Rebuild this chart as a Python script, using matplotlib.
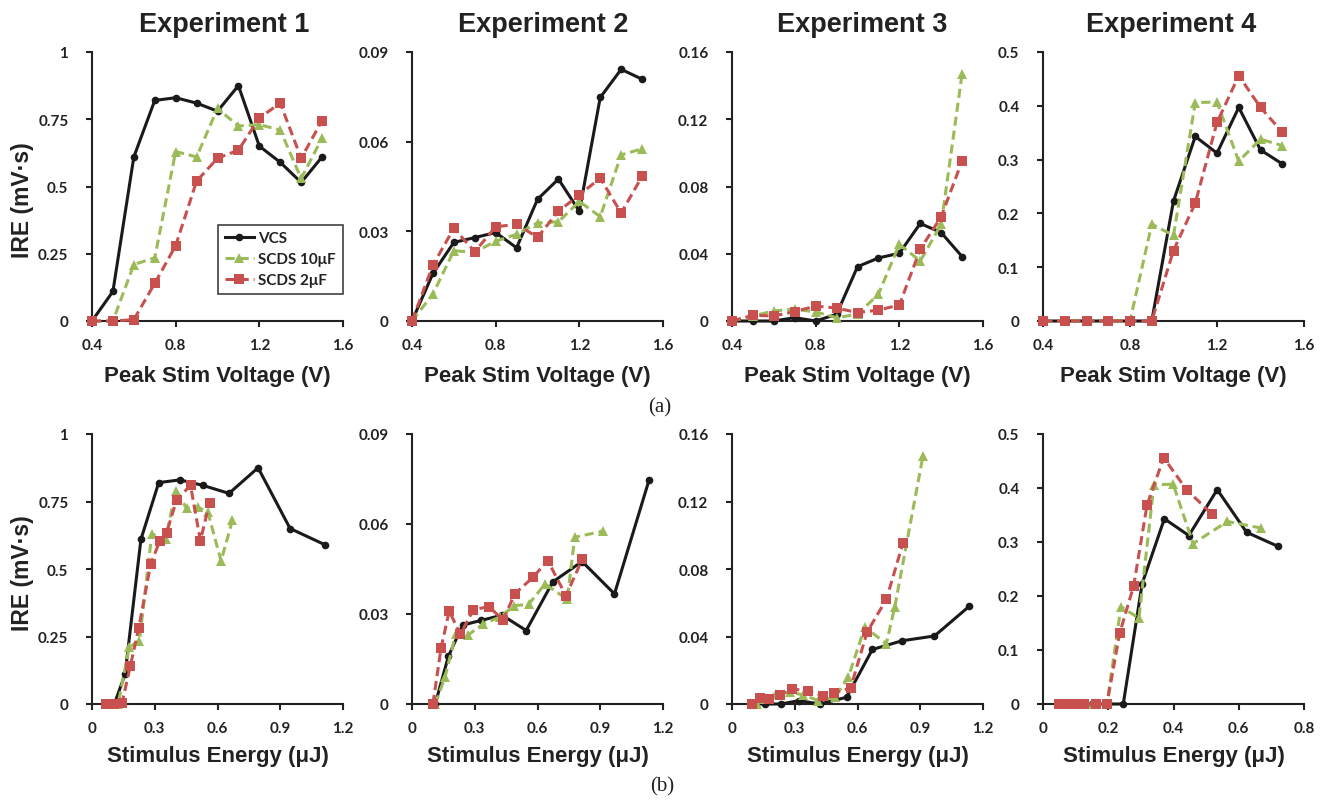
import matplotlib
matplotlib.use('Agg')
import matplotlib.pyplot as plt
from matplotlib.ticker import FixedLocator

# ---------------- data ----------------
voltage = [0.4, 0.5, 0.6, 0.7, 0.8, 0.9, 1.0, 1.1, 1.2, 1.3, 1.4, 1.5]

# Experiment 1
vcs_1 = [0, 0.11, 0.61, 0.82, 0.83, 0.81, 0.78, 0.875, 0.65, 0.59, 0.515, 0.61]
s10_1 = [0, 0, 0.21, 0.235, 0.63, 0.61, 0.79, 0.725, 0.73, 0.71, 0.53, 0.68]
s2_1 = [0, 0, 0.005, 0.14, 0.28, 0.52, 0.605, 0.635, 0.755, 0.81, 0.605, 0.745]
e_vcs_1 = [0.107, 0.158, 0.234, 0.319, 0.42, 0.529, 0.655, 0.794, 0.947, 1.113]
e_s10_1 = [0.075, 0.125, 0.178, 0.227, 0.286, 0.352, 0.40, 0.452, 0.505, 0.554, 0.617, 0.671]
e_s2_1 = [0.068, 0.105, 0.144, 0.183, 0.223, 0.281, 0.325, 0.357, 0.404, 0.471, 0.518, 0.562]

# Experiment 2
vcs_2 = [0, 0.0159, 0.0263, 0.0279, 0.0296, 0.0245, 0.0407, 0.0475, 0.0367, 0.0748, 0.0842, 0.0809]
s10_2 = [0, 0.009, 0.0235, 0.023, 0.0267, 0.029, 0.0328, 0.0332, 0.040, 0.0349, 0.0556, 0.0576]
s2_2 = [0, 0.0187, 0.031, 0.0232, 0.0315, 0.0324, 0.028, 0.0367, 0.0422, 0.0478, 0.0361, 0.0484]
e_vcs_2 = [0.111, 0.174, 0.242, 0.332, 0.431, 0.546, 0.673, 0.813, 0.968, 1.134]
e_s10_2 = [0.111, 0.158, 0.21, 0.268, 0.341, 0.42, 0.49, 0.557, 0.636, 0.742, 0.778, 0.913]
e_s2_2 = [0.1, 0.139, 0.178, 0.231, 0.294, 0.368, 0.436, 0.491, 0.578, 0.649, 0.736, 0.815]

# Experiment 3
vcs_3 = [0, 0, 0, 0.002, 0, 0.004, 0.0323, 0.0375, 0.0403, 0.058, 0.0526, 0.0383]
s10_3 = [0, 0.003, 0.006, 0.007, 0.0054, 0.002, 0.004, 0.0159, 0.0456, 0.0357, 0.0575, 0.147]
s2_3 = [0, 0.0034, 0.003, 0.0056, 0.0089, 0.0077, 0.005, 0.0065, 0.0095, 0.0427, 0.062, 0.0952]
e_vcs_3 = [0.107, 0.158, 0.234, 0.32, 0.42, 0.548, 0.671, 0.814, 0.968, 1.135]
e_s10_3 = [0.119, 0.151, 0.211, 0.275, 0.341, 0.413, 0.492, 0.556, 0.635, 0.738, 0.778, 0.913]
e_s2_3 = [0.095, 0.135, 0.178, 0.23, 0.289, 0.365, 0.433, 0.487, 0.567, 0.646, 0.738, 0.817]

# Experiment 4
vcs_4 = [0, 0, 0, 0, 0, 0, 0.223, 0.343, 0.312, 0.397, 0.318, 0.292]
s10_4 = [0, 0, 0, 0, 0, 0.18, 0.159, 0.406, 0.407, 0.297, 0.338, 0.326]
s2_4 = [0, 0, 0, 0, 0, 0, 0.131, 0.219, 0.369, 0.456, 0.397, 0.351]
e_vcs_4 = [0.049, 0.076, 0.109, 0.149, 0.194, 0.246, 0.304, 0.372, 0.447, 0.534, 0.624, 0.72]
e_s10_4 = [0.05, 0.077, 0.105, 0.135, 0.196, 0.239, 0.294, 0.34, 0.399, 0.46, 0.565, 0.667]
e_s2_4 = [0.048, 0.069, 0.096, 0.127, 0.161, 0.196, 0.235, 0.278, 0.319, 0.37, 0.44, 0.519]

titles = ["Experiment 1", "Experiment 2", "Experiment 3", "Experiment 4"]
series_names = ["VCS", "SCDS 10\u03bcF", "SCDS 2\u03bcF"]
y_ticks = [[0, 0.25, 0.5, 0.75, 1], [0, 0.03, 0.06, 0.09],
           [0, 0.04, 0.08, 0.12, 0.16], [0, 0.1, 0.2, 0.3, 0.4, 0.5]]
x_ticks_top = [0.4, 0.8, 1.2, 1.6]
x_ticks_bot = [[0, 0.3, 0.6, 0.9, 1.2], [0, 0.3, 0.6, 0.9, 1.2],
               [0, 0.3, 0.6, 0.9, 1.2], [0, 0.2, 0.4, 0.6, 0.8]]
xlabel_top = "Peak Stim Voltage (V)"
xlabel_bot = "Stimulus Energy (\u03bcJ)"
ylabel = "IRE (mV\u00b7s)"

vals = [(vcs_1, s10_1, s2_1), (vcs_2, s10_2, s2_2), (vcs_3, s10_3, s2_3), (vcs_4, s10_4, s2_4)]
energies = [(e_vcs_1, e_s10_1, e_s2_1), (e_vcs_2, e_s10_2, e_s2_2),
            (e_vcs_3, e_s10_3, e_s2_3), (e_vcs_4, e_s10_4, e_s2_4)]

# ---------------- style ----------------
styles = [
    dict(color='#1a1a1a', lw=2.2, ls='-', marker='o', ms=5.5),
    dict(color='#9bbb59', lw=2.2, ls=(0, (3, 1.6)), marker='^', ms=7.5),
    dict(color='#c8504f', lw=2.2, ls=(0, (3, 1.6)), marker='s', ms=6.5),
]
TXT = '#222222'
W, H = 1335, 804
fig = plt.figure(figsize=(W / 100, H / 100), dpi=100)


def ax_at(l, t, r, b):
    return fig.add_axes([l / W, 1 - b / H, (r - l) / W, (b - t) / H])


lefts = [92, 412, 732, 1043]
rights = [343, 663, 983, 1304]
rows = [(53, 322), (435, 705)]


def style_axes(ax, xt, yt):
    for s in ['top', 'right']:
        ax.spines[s].set_visible(False)
    for s in ['left', 'bottom']:
        ax.spines[s].set_linewidth(1.5)
        ax.spines[s].set_color(TXT)
    ax.set_xlim(xt[0], xt[-1])
    ax.set_ylim(yt[0], yt[-1])
    ax.xaxis.set_major_locator(FixedLocator(xt))
    ax.yaxis.set_major_locator(FixedLocator(yt))
    ax.set_xticklabels([f"{v:g}" for v in xt])
    ax.set_yticklabels([f"{v:g}" for v in yt])
    ax.tick_params(axis='both', direction='out', length=4, width=1.5, color=TXT,
                   labelsize=11, labelcolor=TXT)
    ax.tick_params(axis='x', pad=8)
    ax.tick_params(axis='y', pad=13)
    for lbl in ax.get_xticklabels() + ax.get_yticklabels():
        lbl.set_fontfamily('Lato')
        lbl.set_fontweight('bold')


for i in range(4):
    # top row
    ax = ax_at(lefts[i], rows[0][0], rights[i], rows[0][1])
    for k in range(3):
        ax.plot(voltage, vals[i][k], label=series_names[k], clip_on=False,
                markeredgewidth=0, zorder=3 + k, **styles[k])
    style_axes(ax, x_ticks_top, y_ticks[i])
    if i == 0:
        leg = ax.legend(loc='lower right', bbox_to_anchor=(1.0, 0.1), frameon=True,
                        fancybox=False, edgecolor='#111111', handlelength=1.9,
                        borderpad=0.45, labelspacing=0.45, handletextpad=0.3,
                        borderaxespad=0,
                        prop=dict(family='Lato', weight='bold', size=11))
        leg.get_frame().set_linewidth(1.2)
        for t in leg.get_texts():
            t.set_color(TXT)
    # bottom row
    axb = ax_at(lefts[i], rows[1][0], rights[i], rows[1][1])
    for k in range(3):
        e = energies[i][k]
        axb.plot(e, vals[i][k][:len(e)], clip_on=False, markeredgewidth=0,
                 zorder=3 + k, **styles[k])
    style_axes(axb, x_ticks_bot[i], y_ticks[i])

# titles and labels
title_x = [224, 543, 862, 1171]
for i in range(4):
    fig.text(title_x[i] / W, 1 - 32 / H, titles[i], ha='center', va='baseline',
             family='Liberation Sans', weight='bold', size=19.5, color=TXT)
    cx = (lefts[i] + rights[i]) / 2
    fig.text(cx / W, 1 - 382 / H, xlabel_top, ha='center', va='baseline',
             family='Liberation Sans', weight='bold', size=16, color=TXT)
    fig.text(cx / W, 1 - 762 / H, xlabel_bot, ha='center', va='baseline',
             family='Liberation Sans', weight='bold', size=16, color=TXT)

fig.text(22 / W, 1 - 200 / H, ylabel, rotation=90, ha='center', va='center',
         family='Liberation Sans', weight='bold', size=16.5, color=TXT)
fig.text(22 / W, 1 - 573 / H, ylabel, rotation=90, ha='center', va='center',
         family='Liberation Sans', weight='bold', size=16.5, color=TXT)

fig.text(660 / W, 1 - 408 / H, "(a)", ha='center', va='center',
         family='Liberation Serif', size=15, color=TXT)
fig.text(662 / W, 1 - 787 / H, "(b)", ha='center', va='center',
         family='Liberation Serif', size=15, color=TXT)

fig.savefig('out.png', dpi=100, facecolor='white')
